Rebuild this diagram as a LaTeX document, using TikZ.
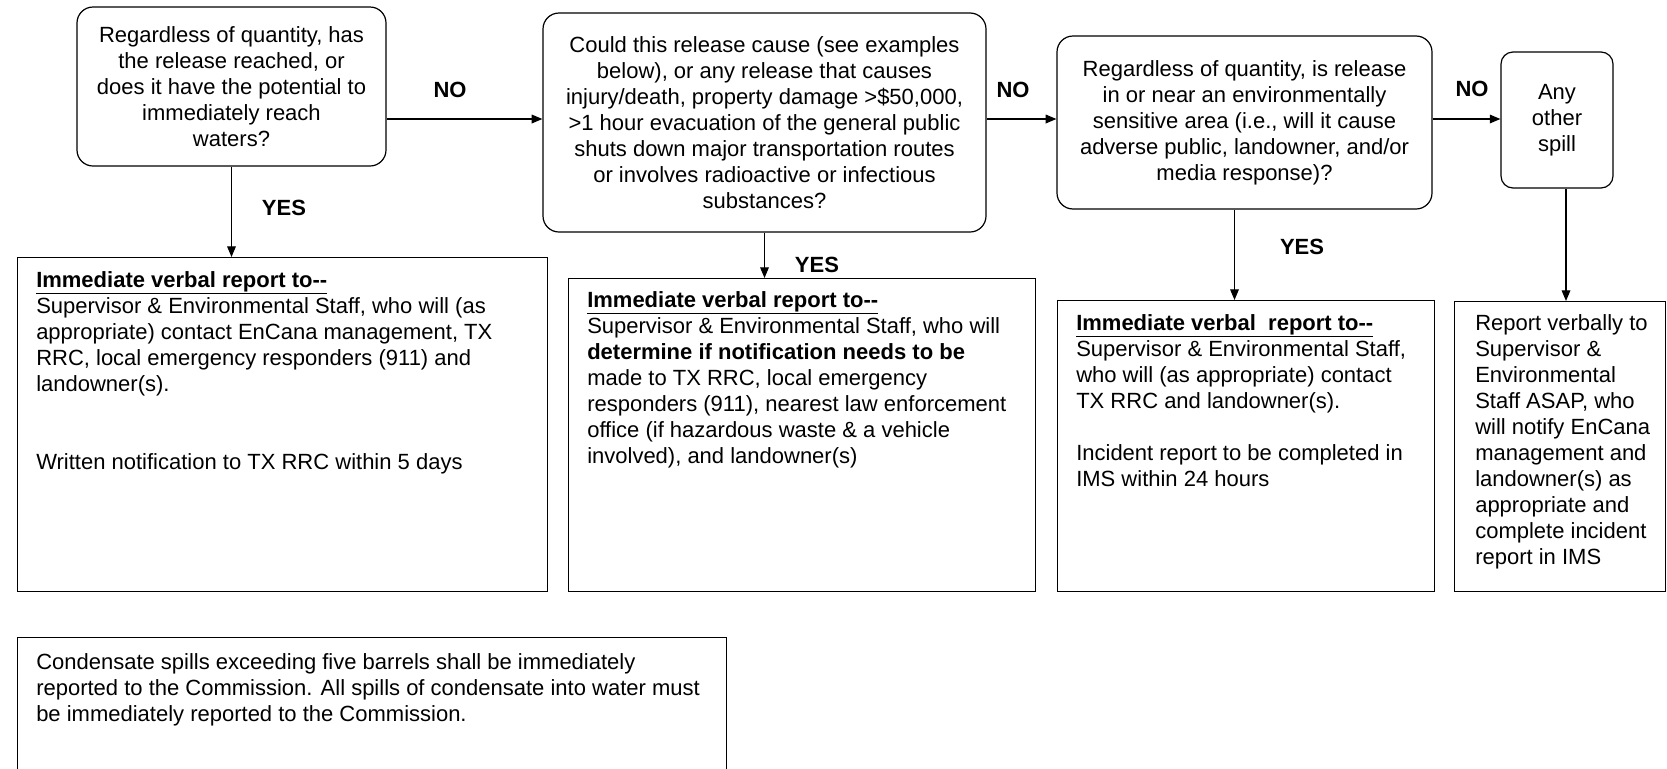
\documentclass[tikz,border=0pt]{standalone}
\usepackage{fontspec}
\setmainfont{Liberation Sans}
\usetikzlibrary{arrows.meta}
\newcommand{\bodyfont}{\fontsize{16.5}{19.5}\selectfont}

\tikzset{
  qbox/.style={draw, line width=0.9pt, rounded corners=12pt, align=center, inner sep=0pt, font=\bodyfont},
  rbox/.style={draw, line width=0.9pt, inner sep=0pt, anchor=north west},
  rtext/.style={anchor=north west, inner sep=0pt, align=left, font=\bodyfont},
  answer/.style={inner sep=0pt, font=\bodyfont\bfseries},
  flow/.style={line width=0.9pt, -{Triangle[length=8pt,width=6.5pt]}},
}

\begin{document}
\begin{tikzpicture}[x=0.75pt,y=0.75pt,yscale=-1,xscale=1]
\useasboundingbox (0,0) rectangle (1667,768);
\clip (0,0) rectangle (1667,768);

%Rounded Rect [questions]
\node[qbox, minimum width=231.75pt, minimum height=119.25pt] (q1) at (231.5,86.5) {Regardless of quantity, has\\the release reached, or\\does it have the potential to\\immediately reach\\waters?};
\node[qbox, minimum width=332.25pt, minimum height=164.25pt] (q2) at (764.5,122.5) {Could this release cause (see examples\\below), or any release that causes\\injury/death, property damage >\$50,000,\\>1 hour evacuation of the general public\\shuts down major transportation routes\\or involves radioactive or infectious\\substances?};
\node[qbox, minimum width=281.25pt, minimum height=129.75pt] (q3) at (1244.5,122.5) {Regardless of quantity, is release\\in or near an environmentally\\sensitive area (i.e., will it cause\\adverse public, landowner, and/or\\media response)?};
\node[qbox, rounded corners=9pt, minimum width=84pt, minimum height=102pt] (q4) at (1557,120) {Any\\other\\spill};

%Rect [reports]
\node[rbox, minimum width=397.5pt, minimum height=250.5pt] (r1) at (17,257) {};
\node[rbox, minimum width=350.25pt, minimum height=234.75pt] (r2) at (568,278) {};
\node[rbox, minimum width=282.75pt, minimum height=218.25pt] (r3) at (1057,300) {};
\node[rbox, minimum width=158.25pt, minimum height=217.5pt] (r4) at (1454,301) {};
\node[rbox, minimum width=531.75pt, minimum height=114.75pt] (note) at (17,637) {};

% Text Node
\node[rtext] (r1txt) at (36,271) {\underline{\textbf{Immediate verbal report to-{}-}}\\Supervisor \& Environmental Staff, who will (as\\appropriate) contact EnCana management, TX\\RRC, local emergency responders (911) and\\landowner(s).\\[39pt]Written notification to TX RRC within 5 days};
% Text Node
\node[rtext] (r2txt) at (587,291) {\underline{\textbf{Immediate verbal report to-{}-}}\\Supervisor \& Environmental Staff, who will\\\textbf{determine if notification needs to be}\\made to TX RRC, local emergency\\responders (911), nearest law enforcement\\office (if hazardous waste \& a vehicle\\involved), and landowner(s)};
% Text Node
\node[rtext] (r3txt) at (1076,314) {\underline{\textbf{Immediate verbal\ \ report to-{}-}}\\Supervisor \& Environmental Staff,\\who will (as appropriate) contact\\TX RRC and landowner(s).\\[19.5pt]Incident report to be completed in\\IMS within 24 hours};
% Text Node
\node[rtext] (r4txt) at (1475,314) {Report verbally to\\Supervisor \&\\Environmental\\Staff ASAP, who\\will notify EnCana\\management and\\landowner(s) as\\appropriate and\\complete incident\\report in IMS};
% Text Node
\node[rtext] (notetxt) at (36,653) {Condensate spills exceeding five barrels shall be immediately\\reported to the Commission. All spills of condensate into water must\\be immediately reported to the Commission.};

%Straight Lines [no branch]
\coordinate (row) at (0,119);
\draw[flow] (q1.east |- row) -- (q2.west |- row);
\draw[flow] (q2.east |- row) -- (q3.west |- row);
\draw[flow] (q3.east |- row) -- (q4.west |- row);

%Straight Lines [yes branch]
\draw[flow] (q1.south) -- (q1.south |- r1.north);
\draw[flow] (q2.south) -- (q2.south |- r2.north);
\draw[flow] ([xshift=-7.5pt]q3.south) -- ([xshift=-7.5pt]q3.south |- r3.north);
\draw[flow] ([xshift=6.75pt]q4.south) -- ([xshift=6.75pt]q4.south |- r4.north);

% Text Node
\node[answer] (no1) at (450,90) {NO};
\node[answer] (no2) at (1013,90) {NO};
\node[answer] (no3) at (1472,89) {NO};
\node[answer] (yes1) at (284,208) {YES};
\node[answer] (yes2) at (817,265) {YES};
\node[answer] (yes3) at (1302,247) {YES};

\end{tikzpicture}
\end{document}
